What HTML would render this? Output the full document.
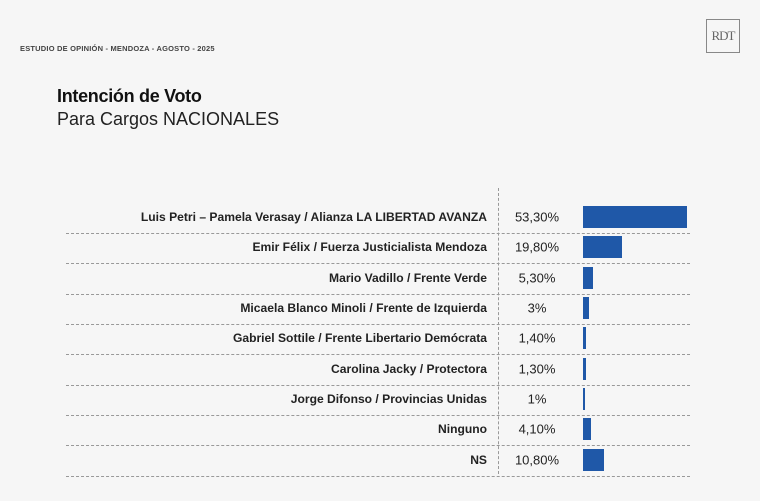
<!DOCTYPE html>
<html><head><meta charset="utf-8"><style>
body{margin:0;width:760px;height:501px;background:#f6f6f6;font-family:"Liberation Sans",sans-serif;position:relative;overflow:hidden}
.a{position:absolute}
.lab{position:absolute;right:273px;font-size:12.1px;font-weight:bold;color:#222;white-space:nowrap;transform:translateY(-50%)}
.pct{position:absolute;left:498px;width:78px;text-align:center;font-size:13px;color:#222;transform:translateY(-50%)}
.bar{position:absolute;left:583px;height:22px;background:#1f58a8;transform:translateY(-50%)}
.hl{position:absolute;left:66px;width:624px;border-top:1px dashed #999}
</style></head><body>
<div class="a" style="left:20px;top:44px;font-size:7.5px;color:#444;font-weight:bold;letter-spacing:.2px">ESTUDIO DE OPINIÓN - MENDOZA - AGOSTO - 2025</div>
<div class="a" style="left:706px;top:19px;width:32px;height:32px;border:1px solid #888;font-family:'Liberation Serif',serif;font-size:13px;color:#666;text-align:center;line-height:32px;letter-spacing:-1px">RDT</div>
<div class="a" style="left:57px;top:86px;font-size:18px;font-weight:bold;color:#111;letter-spacing:-0.3px">Intención de Voto</div>
<div class="a" style="left:57px;top:109px;font-size:18px;color:#222">Para Cargos NACIONALES</div>
<div class="a" style="left:498px;top:188px;height:286px;border-left:1px dashed #999"></div>
<div id="rows"></div>
<script>
var d=[["Luis Petri – Pamela Verasay / Alianza LA LIBERTAD AVANZA","53,30%",53.3],["Emir Félix / Fuerza Justicialista Mendoza","19,80%",19.8],["Mario Vadillo / Frente Verde","5,30%",5.3],["Micaela Blanco Minoli / Frente de Izquierda","3%",3],["Gabriel Sottile / Frente Libertario Demócrata","1,40%",1.4],["Carolina Jacky / Protectora","1,30%",1.3],["Jorge Difonso / Provincias Unidas","1%",1],["Ninguno","4,10%",4.1],["NS","10,80%",10.8]];
var h="";d.forEach(function(r,i){var y=217+i*30.35;
h+='<div class="lab" style="top:'+y+'px">'+r[0]+'</div><div class="pct" style="top:'+y+'px">'+r[1]+'</div><div class="bar" style="top:'+y+'px;width:'+(r[2]*1.95)+'px"></div><div class="hl" style="top:'+(y+16)+'px"></div>';});
document.getElementById("rows").innerHTML=h;
</script>
</body></html>
